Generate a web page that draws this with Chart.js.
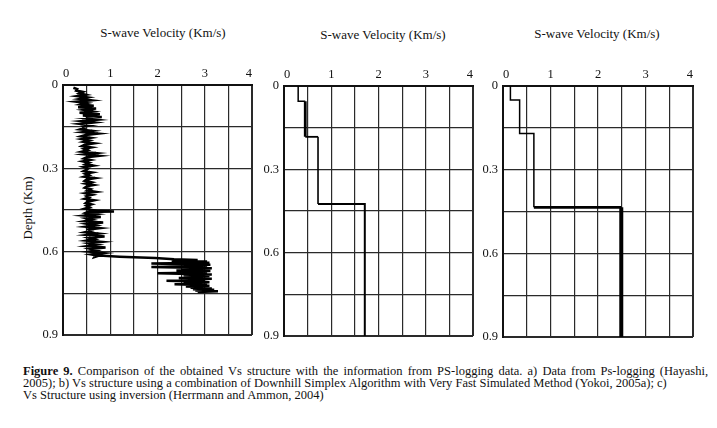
<!DOCTYPE html>
<html><head><meta charset="utf-8">
<script src="https://cdn.jsdelivr.net/npm/chart.js@4.4.1/dist/chart.umd.min.js"></script>
<style>
html,body{margin:0;padding:0;background:#fff;}
body{width:717px;height:428px;position:relative;overflow:hidden;font-family:"Liberation Serif","Times New Roman",serif;color:#111;}
canvas{position:absolute;}
.ttl{position:absolute;font-size:13px;line-height:13px;white-space:nowrap;transform:translateX(-50%);}
.ylab{position:absolute;font-size:13px;line-height:13px;white-space:nowrap;transform:translate(-50%,-50%) rotate(-90deg);}
#cap{position:absolute;left:23px;top:364.5px;font-size:12.5px;line-height:12.3px;white-space:nowrap;}
</style></head>
<body>
<div class="ttl" style="left:163px;top:26px">S-wave Velocity (Km/s)</div>
<div class="ttl" style="left:383px;top:28px">S-wave Velocity (Km/s)</div>
<div class="ttl" style="left:597px;top:27px">S-wave Velocity (Km/s)</div>
<div class="ylab" style="left:27px;top:208px">Depth (Km)</div>
<canvas id="c1"></canvas>
<canvas id="c2"></canvas>
<canvas id="c3"></canvas>
<div id="cap"><span style="word-spacing:2.0px"><b>Figure 9.</b> Comparison of the obtained Vs structure with the information from PS-logging data. a) Data from Ps-logging (Hayashi,</span><br><span style="word-spacing:0px">2005); b) Vs structure using a combination of Downhill Simplex Algorithm with Very Fast Simulated Method (Yokoi, 2005a); c)</span><br>Vs Structure using inversion (Herrmann and Ammon, 2004)</div>
<script>
// ---- tick definitions ----
const xTicks = [0, 0.5, 1, 1.5, 2, 2.5, 3, 3.5, 4];
const xTickLabels = ['0', '', '1', '', '2', '', '3', '', '4'];
const yTicks = [0, 0.15, 0.3, 0.45, 0.6, 0.75, 0.9];
const yTickLabels = ['0', '', '0.3', '', '0.6', '', '0.9'];

// ---- (a) PS-logging data: depth (km) and S-wave velocity (km/s) ----
const psDepth = [
  0.010,0.015,0.020,0.025,0.030,0.035,0.040,0.045,0.050,0.055,0.060,0.065,0.070,0.075,0.080,0.085,0.090,0.095,0.100,0.105,0.110,0.115,0.120,0.125,0.130,0.135,0.140,0.145,0.150,
  0.155,0.160,0.165,0.170,0.175,0.180,0.185,0.190,0.195,0.200,0.205,0.210,0.215,0.220,0.225,0.230,0.235,0.240,0.245,0.250,0.255,0.260,0.265,0.270,0.275,0.280,0.285,0.290,0.295,0.300,
  0.305,0.310,0.315,0.320,0.325,0.330,0.335,0.340,0.345,0.350,0.355,0.360,0.365,0.370,0.375,0.380,0.385,0.390,0.395,0.400,0.405,0.410,0.415,0.420,0.425,0.430,0.435,0.440,0.445,0.450,
  0.452,0.455,0.457,
  0.460,0.465,0.470,0.475,0.480,0.485,0.490,0.495,0.500,0.505,0.510,0.515,0.520,0.525,0.530,0.535,0.540,0.545,0.550,0.555,0.560,0.565,0.570,0.575,0.580,0.585,0.590,0.595,0.600,0.605,0.610,0.615,0.620,
  0.613,0.618,0.623,0.627,
  0.6300,0.6325,0.6350,0.6375,0.6400,0.6425,0.6450,0.6475,0.6500,0.6525,0.6550,0.6575,0.6600,0.6625,0.6650,0.6675,0.6700,0.6725,0.6750,0.6775,0.6800,0.6825,0.6850,0.6875,0.6900,0.6925,0.6950,0.6975,0.7000,0.7025,0.7050,0.7075,0.7100,0.7125,0.7150,0.7175,0.7200,0.7225,0.7250,0.7275,0.7300,0.7325,0.7350,0.7375,0.7400,0.7425,0.7450
];
const psVel = [
  0.22,0.30,0.28,0.42,0.35,0.48,0.30,0.52,0.36,0.60,0.28,0.50,0.38,0.65,0.32,0.70,0.45,0.62,0.35,0.78,0.42,0.82,0.48,0.72,0.40,0.65,0.36,0.58,0.42,
  0.45,0.36,0.62,0.42,0.74,0.48,0.38,0.58,0.40,0.55,0.44,0.66,0.46,0.40,0.60,0.45,0.52,0.40,0.70,0.46,0.76,0.50,0.44,0.58,0.42,0.55,0.48,0.64,0.44,0.54,
  0.50,0.44,0.62,0.48,0.55,0.45,0.68,0.50,0.46,0.60,0.48,0.65,0.50,0.46,0.58,0.52,0.70,0.48,0.62,0.50,0.55,0.46,0.66,0.52,0.48,0.60,0.50,0.56,0.46,0.62,
  0.55,1.08,0.52,
  0.48,0.70,0.45,0.80,0.50,0.62,0.46,0.85,0.52,0.68,0.48,0.78,0.55,0.60,0.47,0.75,0.52,0.88,0.55,0.66,0.50,0.82,0.56,0.72,0.52,0.90,0.58,0.70,0.55,0.85,0.60,0.75,0.66,
  0.68,1.20,1.95,2.35,
  2.85,2.30,3.05,2.45,3.10,1.87,2.60,3.12,2.55,3.05,1.87,2.70,3.15,2.50,3.00,2.40,3.12,2.60,3.05,2.00,2.70,3.15,2.55,3.10,2.60,3.05,2.45,3.15,2.65,3.00,2.19,2.80,3.10,2.55,3.05,2.36,2.90,3.10,2.60,3.00,2.70,3.15,2.75,3.20,2.80,3.28,2.85
];

// ---- (b) Downhill simplex + VFSA layered model ----
const layerTopB = [0, 0.055, 0.183, 0.425];
const layerVelB = [0.30, 0.45, 0.72, 1.71];
// ---- (c) Inversion layered model ----
const layerTopC = [0, 0.05, 0.17, 0.435];
const layerVelC = [0.156, 0.35, 0.65, 2.49];
const bottomDepth = 0.9;

const FONT = '"Liberation Serif","Times New Roman",serif';

function stepPoints(tops, vels, bottom) {
  const pts = [];
  for (let i = 0; i < vels.length; i++) {
    pts.push({x: vels[i], y: tops[i]});
    pts.push({x: vels[i], y: i + 1 < tops.length ? tops[i + 1] : bottom});
  }
  return pts;
}

function makePanel(id, L, T, R, B, dataset) {
  const AXW = 60, AXH = 40, PR = 10, PB = 14;
  const cv = document.getElementById(id);
  const w = (R - L) + AXW + PR, h = (B - T) + AXH + PB;
  cv.width = w; cv.height = h;
  cv.style.width = w + 'px'; cv.style.height = h + 'px';
  cv.style.left = (L - AXW) + 'px'; cv.style.top = (T - AXH) + 'px';
  const gridW = (n) => (c) => (c.index === 0 || c.index === n - 1) ? 2 : 1.2;
  new Chart(cv, {
    type: 'scatter',
    data: {datasets: [dataset]},
    options: {
      responsive: false, animation: false, devicePixelRatio: 1,
      layout: {padding: {left: 0, top: 0, right: PR, bottom: PB}},
      plugins: {legend: {display: false}, tooltip: {enabled: false}},
      scales: {
        x: {
          type: 'linear', position: 'top', min: 0, max: 4,
          afterBuildTicks: s => { s.ticks = xTicks.map(v => ({value: v})); },
          afterFit: s => { s.height = AXH; },
          ticks: {autoSkip: false, maxRotation: 0, align: 'inner', padding: 4, color: '#111',
                  font: {family: FONT, size: 12.5}, callback: (v, i) => xTickLabels[i]},
          grid: {color: '#2a2a2a', lineWidth: gridW(xTicks.length), drawTicks: false},
          border: {display: true, color: '#111', width: 2}
        },
        y: {
          type: 'linear', position: 'left', reverse: true, min: 0, max: 0.9,
          afterBuildTicks: s => { s.ticks = yTicks.map(v => ({value: v})); },
          afterFit: s => { s.width = AXW; },
          ticks: {autoSkip: false, padding: 5, color: '#111',
                  font: {family: FONT, size: 12.5}, callback: (v, i) => yTickLabels[i]},
          grid: {color: '#2a2a2a', lineWidth: gridW(yTicks.length), drawTicks: false},
          border: {display: true, color: '#111', width: 2}
        }
      }
    }
  });
}

// Panel a
makePanel('c1', 63, 85, 252, 335, {
  data: psDepth.map((d, i) => ({x: psVel[i], y: d})),
  showLine: true, borderColor: '#000', borderWidth: 2.5, pointRadius: 0, tension: 0
});
// Panel b
const widthsB = [1.5, 1.5, 2.8, 1.8, 1.6, 2, 2];
makePanel('c2', 284, 86, 473, 336, {
  data: stepPoints(layerTopB, layerVelB, bottomDepth),
  showLine: true, borderColor: '#000', borderWidth: 1.6, pointRadius: 0, tension: 0,
  segment: {borderWidth: c => widthsB[c.p0DataIndex]}
});
// Panel c
const widthsC = [1.5, 1.5, 1.5, 1.5, 1.5, 2.7, 4];
makePanel('c3', 503, 86, 693, 337, {
  data: stepPoints(layerTopC, layerVelC, bottomDepth),
  showLine: true, borderColor: '#000', borderWidth: 1.5, pointRadius: 0, tension: 0,
  segment: {borderWidth: c => widthsC[c.p0DataIndex]}
});
</script>
</body></html>
